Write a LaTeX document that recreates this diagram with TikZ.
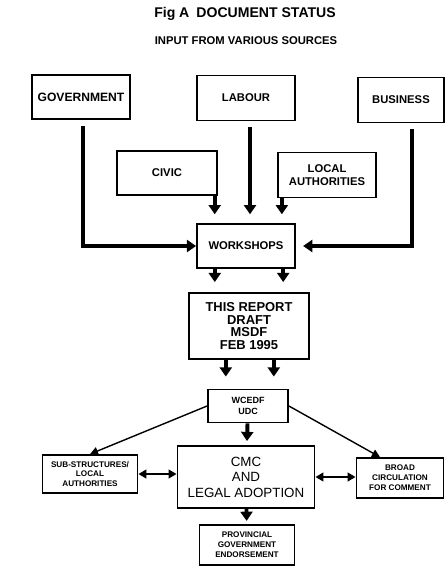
\documentclass[tikz,border=0pt]{standalone}
\usepackage{fontspec}
\setmainfont{Liberation Sans}
\usetikzlibrary{arrows.meta}
\begin{document}
\begin{tikzpicture}[x=0.025cm,y=-0.025cm,>={Triangle[length=2.3mm,width=3mm]},
  box/.style={draw,rectangle,line width=1.3pt,inner sep=0pt,align=center,font=\bfseries\fontsize{8}{9}\selectfont},
  small/.style={font=\bfseries\fontsize{5.8}{7}\selectfont},
  feed/.style={->,line width=2.8pt,shorten <=0.15cm},
  stub/.style={->,line width=2.8pt}]
\useasboundingbox (0,0) rectangle (445,566);

\node[font=\bfseries\fontsize{10}{12}\selectfont] (title) at (245,14) {Fig A\enspace DOCUMENT STATUS};
\node[font=\bfseries\fontsize{8}{10}\selectfont] (sources) at (246,41) {INPUT FROM VARIOUS SOURCES};

\node[box, minimum width=2.45cm, minimum height=1.1cm, font=\bfseries\fontsize{8.6}{10}\selectfont] (gov) at (81,97) {GOVERNMENT};
\node[box, minimum width=2.45cm, minimum height=1.125cm] (labour) at (246,98) {LABOUR};
\node[box, minimum width=2.15cm, minimum height=1.125cm] (business) at (401,100) {BUSINESS};
\node[box, minimum width=2.5cm, minimum height=1.1cm] (civic) at (167,173) {CIVIC};
\node[box, minimum width=2.45cm, minimum height=1.125cm] (localauth) at (327,175) {LOCAL\\AUTHORITIES};
\node[box, minimum width=2.45cm, minimum height=1.1cm] (workshops) at (246,246) {WORKSHOPS};
\node[box, minimum width=3cm, minimum height=1.65cm, font=\bfseries\fontsize{9.2}{9}\selectfont] (report) at (249,326) {THIS REPORT\\DRAFT\\MSDF\\FEB 1995};
\node[box, small, minimum width=2cm, minimum height=0.825cm, font=\bfseries\fontsize{6.4}{7.5}\selectfont] (wcedf) at (248,406) {WCEDF\\UDC};
\node[box, minimum width=3.425cm, minimum height=1.55cm, font=\fontsize{9.5}{11}\selectfont] (cmc) at (246,477) {CMC\\AND\\LEGAL ADOPTION};
\node[box, small, minimum width=2.375cm, minimum height=0.95cm] (sub) at (90,474) {SUB-STRUCTURES/\\LOCAL\\AUTHORITIES};
\node[box, small, minimum width=2.175cm, minimum height=1cm] (broad) at (400,478) {BROAD\\CIRCULATION\\FOR COMMENT};
\node[box, small, minimum width=2.375cm, minimum height=1cm] (prov) at (247,545) {PROVINCIAL\\GOVERNMENT\\ENDORSEMENT};

% inputs to the workshops
\draw[feed] ([xshift=0.05cm]gov.south) |- (workshops.west);
\draw[feed, shorten >=0.18cm] ([xshift=0.28cm]business.south) |- (workshops.east);
\draw[feed, shorten >=0.22cm] ([xshift=0.1cm]labour.south) -- ([xshift=0.1cm]labour.south |- workshops.north);
\draw[stub, shorten >=0.22cm] ([xshift=-0.08cm]civic.south east) -- ([xshift=-0.08cm]civic.south east |- workshops.north);
\draw[stub, shorten >=0.22cm] ([xshift=0.12cm]localauth.south west) -- ([xshift=0.12cm]localauth.south west |- workshops.north);

% down the middle
\draw[stub, shorten >=0.25cm] ([xshift=-0.78cm]workshops.south) -- ([xshift=-0.78cm]workshops.south |- report.north);
\draw[stub, shorten >=0.25cm] ([xshift=0.93cm]workshops.south) -- ([xshift=0.93cm]workshops.south |- report.north);
\draw[stub, shorten >=0.3cm] ([xshift=-0.58cm]report.south) -- ([xshift=-0.58cm]report.south |- wcedf.north);
\draw[stub, shorten >=0.3cm] ([xshift=0.62cm]report.south) -- ([xshift=0.62cm]report.south |- wcedf.north);
\draw[stub, shorten >=0.1cm] (wcedf) -- (cmc);
\draw[stub, shorten >=0.08cm] (cmc) -- (prov);

% out to the sides
\draw[->, line width=1pt, >={Triangle[length=2mm,width=2mm]}] (wcedf.west) -- (sub.north);
\draw[->, line width=1pt, >={Triangle[length=2mm,width=2mm]}] (wcedf.east) -- ([xshift=-0.5cm]broad.north);
\draw[<->, line width=1.2pt, >={Triangle[length=2mm,width=2.2mm]}] (sub.east) -- (sub.east -| cmc.west);
\draw[<->, line width=1.2pt, >={Triangle[length=2mm,width=2.2mm]}] (cmc.east) -- (cmc.east -| broad.west);
\end{tikzpicture}
\end{document}
